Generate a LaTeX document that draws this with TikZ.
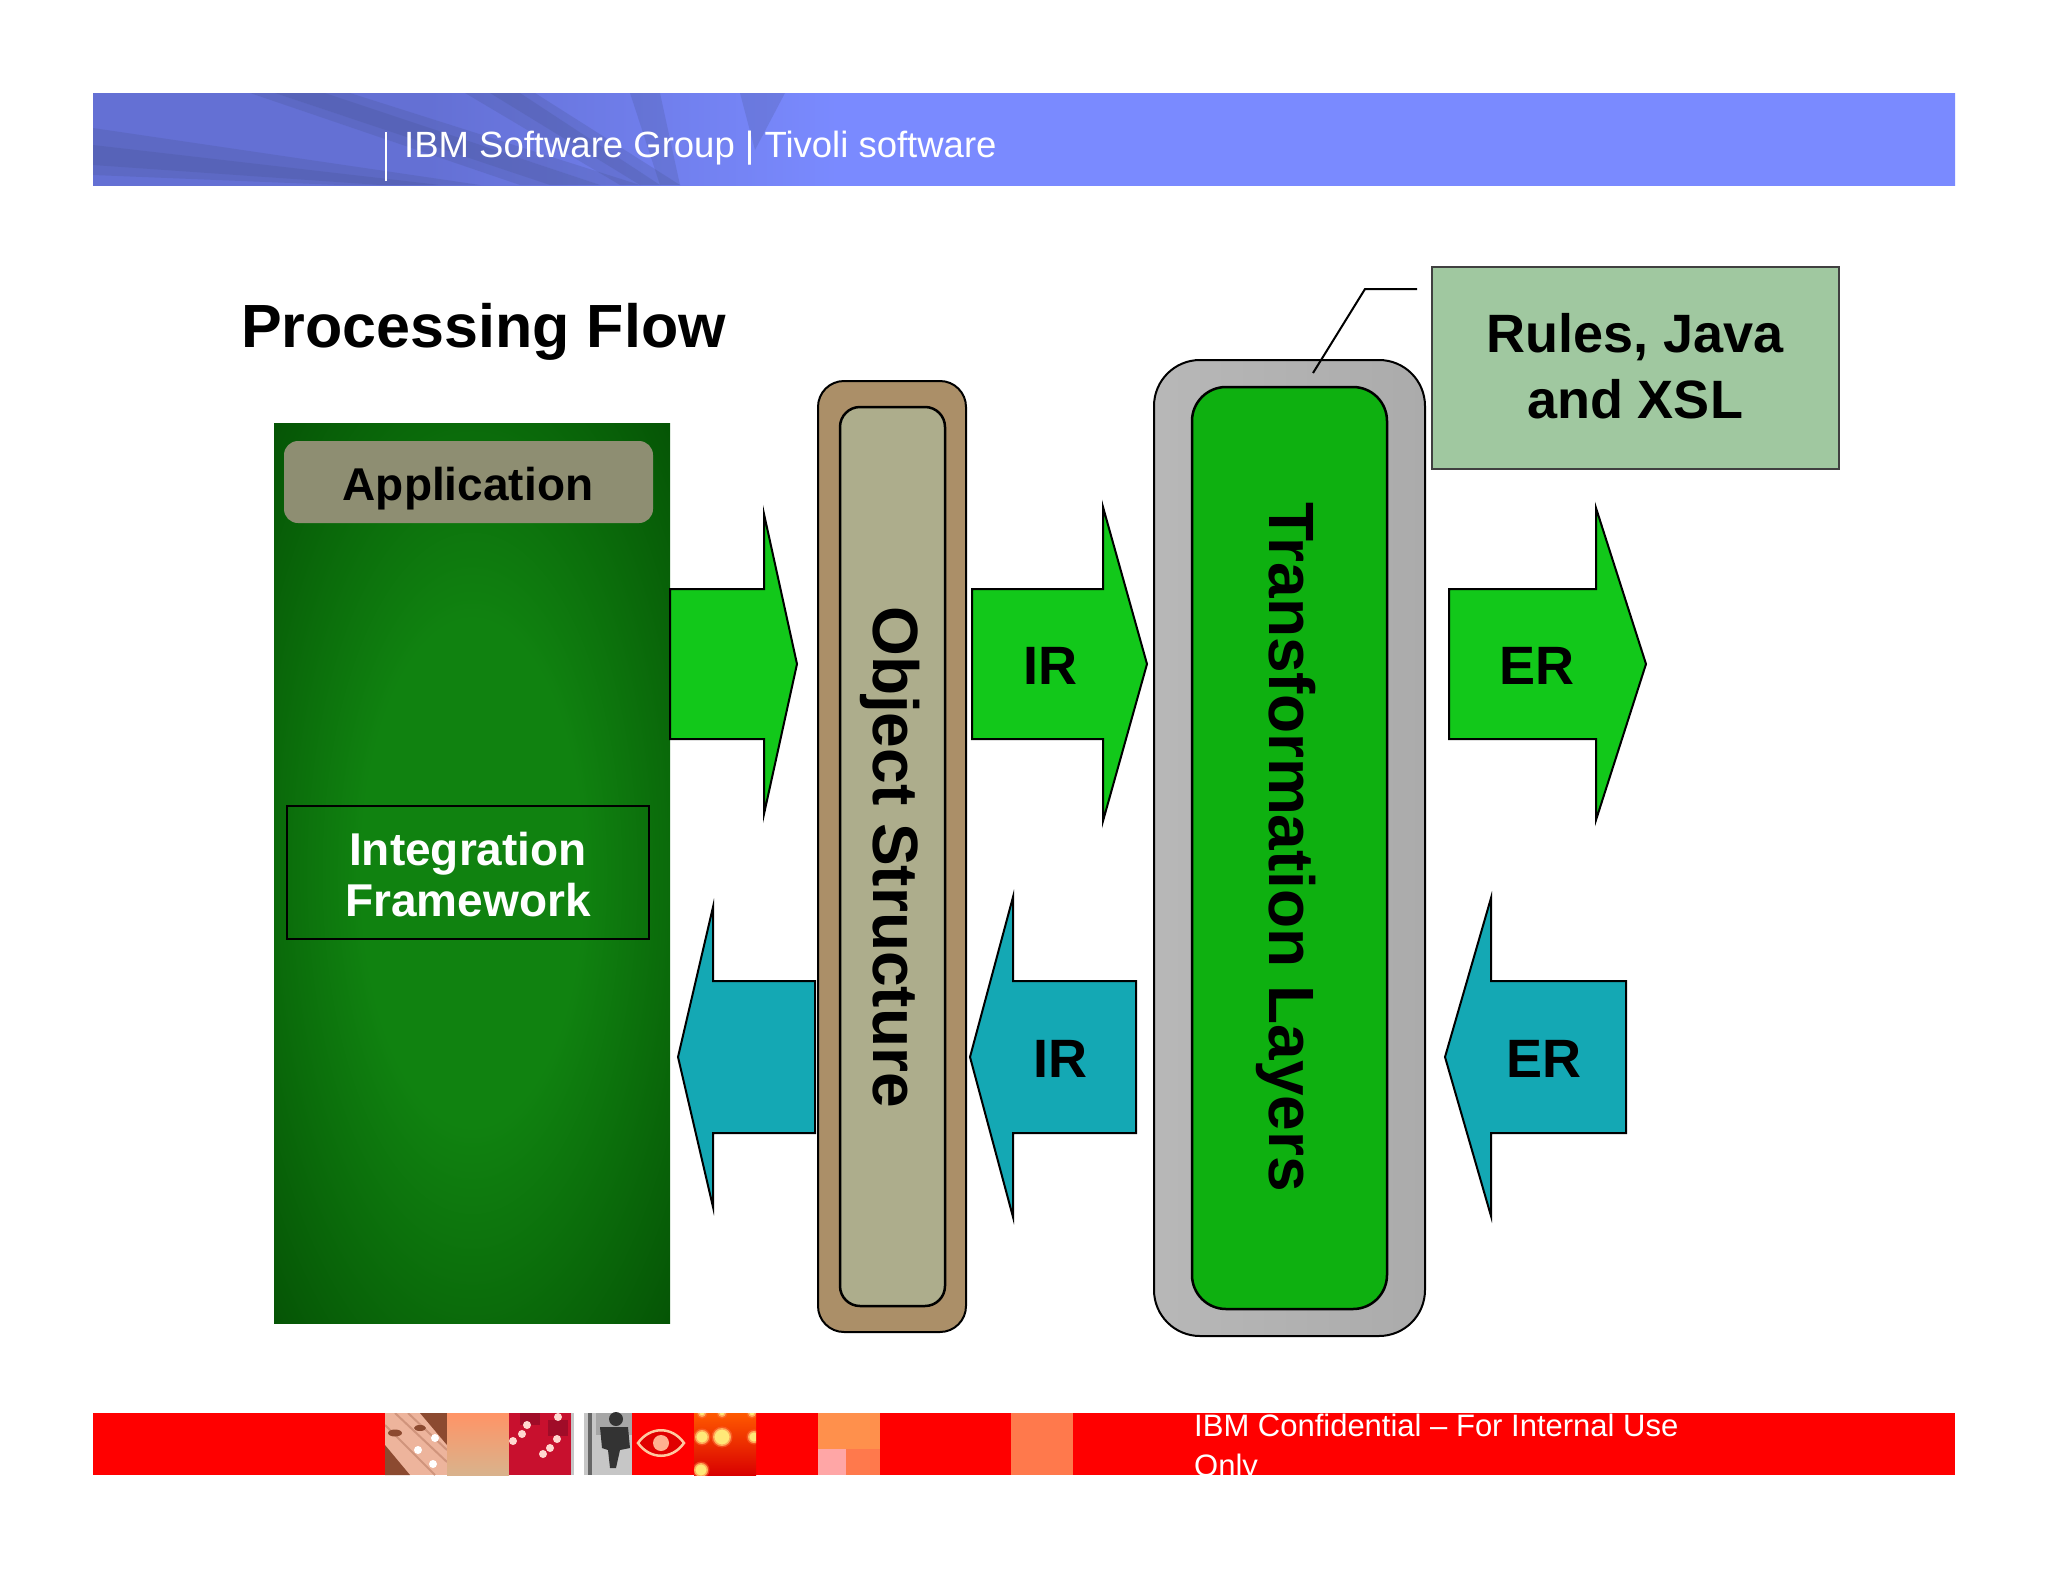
\documentclass[tikz,border=0pt]{standalone}
\usepackage{fontspec}
\setmainfont{Liberation Sans}
\definecolor{bandleft}{HTML}{6470D4}
\definecolor{bandright}{HTML}{7A8AFF}
\definecolor{bandswoosh}{HTML}{46528E}
\definecolor{okgreen}{HTML}{1AFF26}
\definecolor{okgreentip}{HTML}{12C81A}
\definecolor{okcyan}{HTML}{1EFFFF}
\definecolor{okcyantip}{HTML}{14A8B4}
\definecolor{appdark}{HTML}{003F00}
\definecolor{appglow}{HTML}{108210}
\definecolor{creamdark}{HTML}{8E8E72}
\definecolor{cream}{HTML}{FFFFD0}
\definecolor{objedge}{HTML}{AB8F68}
\definecolor{objdark}{HTML}{ADAD8C}
\definecolor{transgray}{HTML}{ABABAB}
\definecolor{transdark}{HTML}{0EB010}
\definecolor{rulesdark}{HTML}{A0C8A0}
\definecolor{rulesmid}{HTML}{CCFFCC}
\definecolor{footred}{HTML}{FF0000}
\definecolor{dotyellow}{HTML}{FFE878}
\definecolor{copper}{HTML}{EDB49C}
\definecolor{copperdark}{HTML}{8C4A30}
\definecolor{chipred}{HTML}{C8102E}
\definecolor{chipdark}{HTML}{A00C28}
\definecolor{chipdot}{HTML}{FFD8D0}
\definecolor{eyeline}{HTML}{FFC8A0}
\definecolor{eyeiris}{HTML}{FFB090}
\pgfdeclarehorizontalshading{bandfade}{100bp}{color(0bp)=(bandleft); color(34bp)=(bandleft); color(45bp)=(bandright); color(100bp)=(bandright)}
\pgfdeclareradialshading{appshade}{\pgfpoint{0bp}{0bp}}{color(0bp)=(appglow); color(14bp)=(appglow); color(36bp)=(appdark!70!appglow); color(50bp)=(appdark); color(100bp)=(appdark)}
\tikzset{
  bigbold/.style={font=\fontsize{#1}{#1}\selectfont\bfseries},
  okarrow/.style={draw=black,line width=2pt,top color=okgreentip,middle color=okgreen,bottom color=okgreentip},
  backarrow/.style={draw=black,line width=2pt,top color=okcyantip,middle color=okcyan,bottom color=okcyantip},
  swoosh/.style={fill=bandswoosh,opacity=.22},
  softdot/.style={fill=dotyellow,draw=dotyellow!50!red,draw opacity=.5,line width=3pt},
  chip/.style={fill=chipdot}
}
\begin{document}
\begin{tikzpicture}
  [x=1pt,y=-1pt]
  \useasboundingbox (0,0) rectangle (2048,1582);

  % header band
  \shade[shading=bandfade] (93,93) rectangle (1955,185);
  \fill[swoosh] (250,93) -- (350,93) -- (640,185) -- (520,185) -- cycle;
  \fill[swoosh] (275,93) -- (325,93) -- (600,185) -- (550,185) -- cycle;
  \fill[swoosh] (465,93) -- (535,93) -- (680,185) -- (620,185) -- cycle;
  \fill[swoosh] (490,93) -- (520,93) -- (660,185) -- (640,185) -- cycle;
  \fill[swoosh] (630,93) -- (660,93) -- (680,185) -- (660,185) -- cycle;
  \fill[swoosh] (740,93) -- (785,93) -- (755,150) -- cycle;
  \fill[swoosh] (93,128) -- (93,175) -- (340,185) -- (480,185) -- cycle;
  \fill[swoosh] (93,145) -- (93,165) -- (380,185) -- (440,185) -- cycle;
  \draw[white,line width=1.5pt] (386,132) -- (386,181);
  \node (bandtext) [anchor=base west,inner sep=0,text=white,font=\fontsize{36.5}{36.5}\selectfont] at (404,157) {IBM Software Group | Tivoli software};

  % footer band
  \fill[footred] (93,1413) rectangle (1955,1475);

  % copper tile
  \begin{scope}
    \clip (385,1413) rectangle (447,1475);
    \fill[copper] (385,1413) rectangle (447,1475);
    \fill[copperdark] (420,1413) -- (447,1413) -- (447,1445) -- cycle;
    \fill[copperdark] (385,1445) -- (385,1475) -- (410,1475) -- cycle;
    \draw[copper!70!copperdark,line width=2pt] (385,1425) -- (435,1475);
    \draw[copper!70!copperdark,line width=2pt] (395,1413) -- (447,1462);
    \draw[copper!70!copperdark,line width=2pt] (408,1413) -- (447,1450);
    \fill[copperdark] (395,1433) ellipse [x radius=7,y radius=3.5];
    \fill[copperdark] (420,1428) ellipse [x radius=6,y radius=3];
    \fill[white] (418,1450) circle [radius=4];
    \fill[white] (435,1438) circle [radius=4];
    \fill[white] (433,1464) circle [radius=4];
  \end{scope}

  % tan tile
  \shade[top color=orange!60!red!60!white,bottom color=brown!60!white] (447,1413) rectangle (509,1475);

  % circuit tile
  \fill[chipred] (509,1413) rectangle (571,1475);
  \fill[chipdark] (520,1413) rectangle (540,1425);
  \fill[chipdark] (548,1420) rectangle (568,1436);
  \fill[chip] (527,1425) circle [radius=4];
  \fill[chip] (522,1434) circle [radius=4];
  \fill[chip] (513,1441) circle [radius=4];
  \fill[chip] (557,1439) circle [radius=4];
  \fill[chip] (550,1448) circle [radius=4];
  \fill[chip] (543,1454) circle [radius=4];
  \fill[chip] (558,1417) circle [radius=4];

  % person tile
  \fill[gray!45] (571,1413) rectangle (632,1475);
  \fill[white] (574,1413) rectangle (584,1475);
  \fill[gray!80!black] (588,1413) rectangle (592,1475);
  \fill[gray!70] (596,1413) rectangle (632,1435);
  \fill[black!80] (616,1419) circle [radius=7];
  \fill[black!80] (600,1427) -- (628,1427) -- (630,1448) -- (620,1450) -- (616,1468) -- (610,1468) -- (608,1450) -- (602,1448) -- cycle;

  % eye tile
  \draw[eyeline,line width=2.5pt,fill=red!88!black] (638,1443) .. controls (650,1426) and (672,1426) .. (684,1443) .. controls (672,1460) and (650,1460) .. (638,1443) -- cycle;
  \fill[eyeiris] (661,1443) circle [radius=8];

  % dots tile
  \shade[top color=orange!70!red,bottom color=red!85!black] (694,1413) rectangle (756,1475);
  \begin{scope}
    \clip (694,1413) rectangle (756,1475);
    \fill[softdot] (702,1437) circle [radius=7];
    \fill[softdot] (722,1437) circle [radius=9];
    \fill[softdot] (754,1437) circle [radius=6];
    \fill[softdot] (701,1470) circle [radius=7];
    \fill[softdot] (702,1413) circle [radius=4];
    \fill[softdot] (722,1413) circle [radius=4];
    \fill[softdot] (752,1413) circle [radius=4];
  \end{scope}

  % plain tiles
  \fill[orange!75!red!70!white] (818,1413) rectangle (880,1449);
  \fill[red!35!white] (818,1449) rectangle (846,1475);
  \fill[red!50!orange!70!white] (846,1449) rectangle (880,1475);
  \fill[red!50!orange!70!white] (1011,1413) rectangle (1073,1475);

  \node (foottext) [anchor=north west,inner sep=0,align=left,text=white,font=\fontsize{31}{39.5}\selectfont] at (1194,1414) {IBM Confidential -- For Internal Use\\Only};

  \node (title) [anchor=base west,inner sep=0,bigbold=61] at (241,347) {Processing Flow};

  % application block
  \shade[shading=appshade] (274,423) rectangle (670,1323);
  \node (app) [minimum width=369pt,minimum height=82pt,rounded corners=14pt,top color=creamdark,middle color=cream,bottom color=creamdark,bigbold=46] at (468.5,482) {};
  \node (applabel) [anchor=base,inner sep=0,bigbold=46] at (468,500) {Application};
  \node (intframe) [draw=black,line width=1.5pt,minimum width=362pt,minimum height=133pt] at (468,872.5) {};
  \node (intlabel) [text=white,align=center,inner sep=0,bigbold=46] at (468,875) {Integration\\[5pt]Framework};

  % upper arrows
  \def\x{670}
  \def\y{664}
  \draw[okarrow] (\x,\y -75) -- (\x +94,\y -75) -- (\x +94,\y -150) -- (\x +127,\y) -- (\x +94,\y +150) -- (\x +94,\y +75) -- (\x,\y +75) -- cycle;

  \def\x{972}
  \draw[okarrow] (\x,\y -75) -- (\x +131,\y -75) -- (\x +131,\y -157) -- (\x +175,\y) -- (\x +131,\y +157) -- (\x +131,\y +75) -- (\x,\y +75) -- cycle;
  \node (irup) [bigbold=54] at (\x +78,\y +2) {IR};

  \def\x{1449}
  \draw[okarrow] (\x,\y -75) -- (\x +147,\y -75) -- (\x +147,\y -156) -- (\x +197,\y) -- (\x +147,\y +156) -- (\x +147,\y +75) -- (\x,\y +75) -- cycle;
  \node (erup) [bigbold=54] at (\x +88,\y +2) {ER};

  % lower arrows
  \def\y{1057}
  \def\x{815}
  \draw[backarrow] (\x,\y -76) -- (\x -102,\y -76) -- (\x -102,\y -150) -- (\x -137,\y) -- (\x -102,\y +150) -- (\x -102,\y +76) -- (\x,\y +76) -- cycle;

  \def\x{1136}
  \draw[backarrow] (\x,\y -76) -- (\x -123,\y -76) -- (\x -123,\y -160) -- (\x -166,\y) -- (\x -123,\y +160) -- (\x -123,\y +76) -- (\x,\y +76) -- cycle;
  \node (irdown) [bigbold=54] at (\x -76,\y +2) {IR};

  \def\x{1626}
  \draw[backarrow] (\x,\y -76) -- (\x -135,\y -76) -- (\x -135,\y -159) -- (\x -181,\y) -- (\x -135,\y +159) -- (\x -135,\y +76) -- (\x,\y +76) -- cycle;
  \node (erdown) [bigbold=54] at (\x -82,\y +2) {ER};

  % object structure
  \node (objouter) [draw=black,line width=2pt,fill=objedge,minimum width=148pt,minimum height=951pt,rounded corners=26pt] at (892,856.5) {};
  \node (objinner) [draw=black,line width=2.5pt,minimum width=105pt,minimum height=899pt,rounded corners=20pt,top color=objdark,middle color=cream,bottom color=objdark] at (892.5,856.5) {};
  \node (objlabel) [rotate=-90,inner sep=0,bigbold=64] at (890,857) {Object Structure};

  % transformation layers
  \node (transouter) [draw=black,line width=2pt,minimum width=271pt,minimum height=976pt,rounded corners=46pt,left color=transgray!85!white,middle color=transgray,right color=transgray] at (1289.5,848) {};
  \node (transinner) [draw=black,line width=2.5pt,minimum width=195pt,minimum height=922pt,rounded corners=34pt,top color=transdark,middle color=okgreen,bottom color=transdark] at (1289.5,848) {};
  \node (translabel) [rotate=-90,inner sep=0,bigbold=64] at (1286,847) {Transformation Layers};

  % rules box
  \node (rules) [draw=black!75,line width=2.5pt,minimum width=407pt,minimum height=202pt,top color=rulesdark,middle color=rulesmid,bottom color=rulesdark] at (1635.5,368) {};
  \node (ruleslabel) [align=center,inner sep=0,bigbold=54] at (1635,366) {Rules, Java\\[12pt]and XSL};

  \coordinate (calloutend) at (1417,289);
  \coordinate (calloutknee) at (1365,289);
  \coordinate (calloutfoot) at (1313,373);
  \draw[line width=2pt] (calloutend) -- (calloutknee) -- (calloutfoot);
\end{tikzpicture}
\end{document}
